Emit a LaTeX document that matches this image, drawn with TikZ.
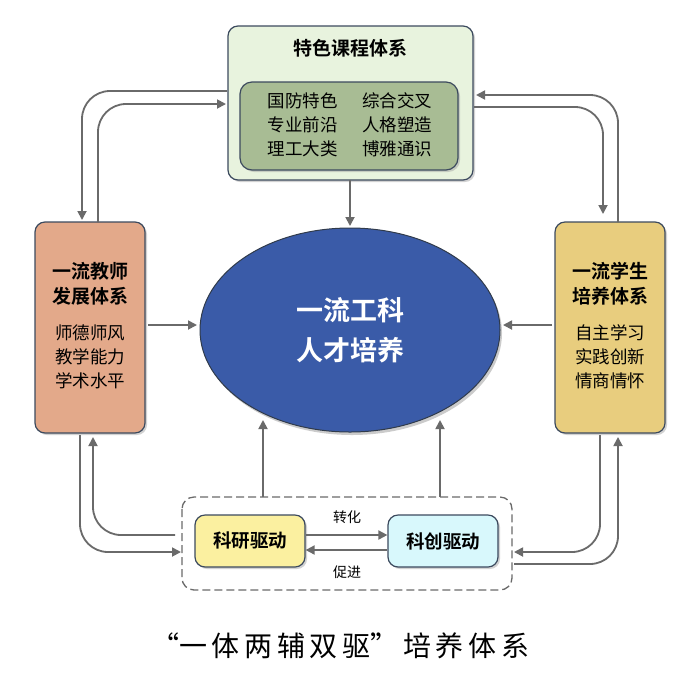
\documentclass[tikz,border=0pt]{standalone}
\usepackage{fontspec}
\setmainfont{Noto Sans CJK SC}
\newfontfamily\cjkb{Noto Sans CJK SC Bold}
\usetikzlibrary{arrows.meta,shadows}
\definecolor{topf}{HTML}{E8F3DE}
\definecolor{innf}{HTML}{A8BC94}
\definecolor{leftf}{HTML}{E3A98A}
\definecolor{rightf}{HTML}{E8CD7E}
\definecolor{ellf}{HTML}{3A5BA8}
\definecolor{kyf}{HTML}{FBF0A0}
\definecolor{kcf}{HTML}{D8F8FC}
\definecolor{arr}{HTML}{6A6A6A}
\definecolor{bord}{HTML}{3C4A5E}
\begin{document}
\begin{tikzpicture}[x=1pt,y=-1pt,
  box/.style={draw=bord,line width=1.2pt,rounded corners=10pt,drop shadow={shadow xshift=2pt,shadow yshift=-2pt,fill=black!35}},
  ar/.style={draw=arr,line width=1.8pt,-{Triangle[length=9pt,width=9pt]},rounded corners=28pt},
  t/.style={font=\fontsize{17.5}{24}\selectfont,align=center,inner sep=0pt},
  tb/.style={font=\cjkb\fontsize{19}{25}\selectfont,align=center,inner sep=0pt}]
\useasboundingbox (0,0) rectangle (700,678);
\fill[white] (0,0) rectangle (700,678);
% boxes
\path[box,fill=topf] (228,26) rectangle (473,180);
\node[tb] (toptitle) at (350,48) {特色课程体系};
\path[box,fill=innf,rounded corners=12pt,drop shadow={opacity=0}] (240,82) rectangle (458,170);
\node[t] (topin) at (350,125) {国防特色\hspace{1.4em}综合交叉\\专业前沿\hspace{1.4em}人格塑造\\理工大类\hspace{1.4em}博雅通识};
\coordinate (top) at (350,180);
\path[box,fill=leftf] (35,222) rectangle (145,433);
\node[tb] (lt) at (90,284) {一流教师\\发展体系};
\node[t] (lb) at (90,357) {师德师风\\教学能力\\学术水平};
\path[box,fill=rightf] (555,222) rectangle (665,433);
\node[tb] (rt) at (610,284) {一流学生\\培养体系};
\node[t] (rb) at (610,357) {自主学习\\实践创新\\情商情怀};
\path[draw=bord!80!black,line width=1pt,fill=ellf,drop shadow={shadow xshift=2pt,shadow yshift=-3pt,fill=black!40}] (350,330) ellipse [x radius=150,y radius=102];
\node[font=\cjkb\fontsize{27}{40}\selectfont,text=white,align=center] (ell) at (350,330) {一流工科\\人才培养};
\draw[arr,line width=1.3pt,dash pattern=on 8pt off 4pt,rounded corners=12pt] (182,497) rectangle (512,590);
\node[box,fill=kyf,minimum width=110pt,minimum height=52pt,font=\cjkb\fontsize{18.5}{20}\selectfont] (ky) at (250,541) {科研驱动};
\node[box,fill=kcf,minimum width=110pt,minimum height=52pt,font=\cjkb\fontsize{18.5}{20}\selectfont] (kc) at (443,541) {科创驱动};
\node[t,font=\fontsize{14}{16}\selectfont] (zh) at (347,517) {转化};
\node[t,font=\fontsize{14}{16}\selectfont] (cj) at (347,572) {促进};
% arrows
\draw[ar] (ky.east |- 0,535) -- (kc.west |- 0,535);
\draw[ar] (kc.west |- 0,550) -- (ky.east |- 0,550);
\draw[ar] (top) -- (350,226);
\draw[ar] (148,325) -- (197,325);
\draw[ar] (552,325) -- (503,325);
\draw[ar] (263,497) -- (263,420);
\draw[ar] (440,497) -- (440,420);
% left top
\draw[ar] (227,91) -- (82,91) -- (82,220);
\draw[ar] (98,222) -- (98,104) -- (226,104);
% right top
\draw[ar] (618,222) -- (618,95) -- (476,95);
\draw[ar] (474,107) -- (603,107) -- (603,214);
% left bottom
\draw[ar] (80,435) -- (80,552) -- (181,552);
\draw[ar] (175,535) -- (93,535) -- (93,437);
% right bottom
\draw[ar] (600,435) -- (600,552) -- (514,552);
\draw[ar] (514,564) -- (618,564) -- (618,437);
\node[font=\fontsize{28}{30}\selectfont,inner sep=0pt] (cap) at (340,646) {“一\,体\,两\,辅\,双\,驱”\,培\,养\,体\,系};
\end{tikzpicture}
\end{document}
